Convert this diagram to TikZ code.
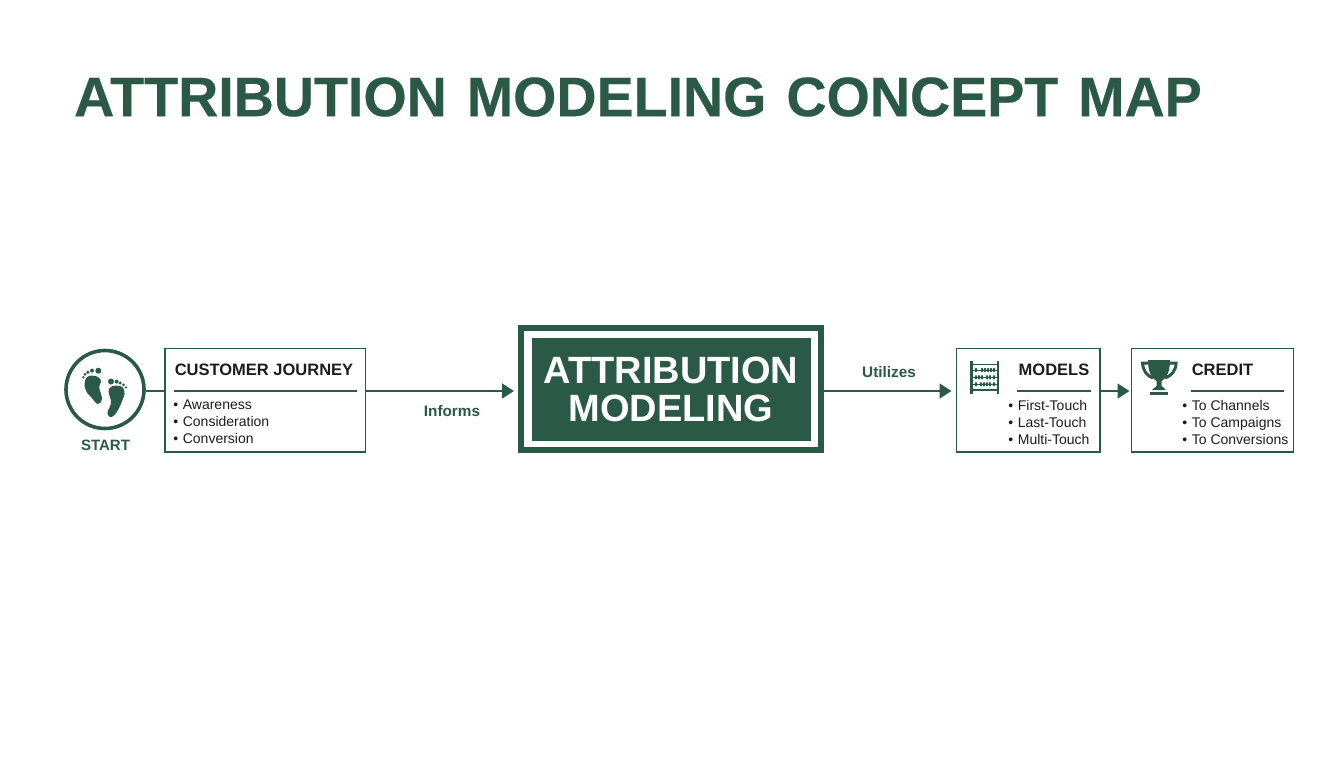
\documentclass[tikz,border=0pt]{standalone}
\usepackage{fontspec}
\setmainfont{Liberation Sans}
\newfontfamily\heavyfont[FakeBold=0.4]{Liberation Sans Bold}
\usetikzlibrary{arrows.meta,calc}
\definecolor{fgreen}{HTML}{2A5A45}
\definecolor{inkk}{HTML}{1C1C1C}
\newcommand{\fsz}[2]{\fontsize{\dimexpr#1pt*3/4\relax}{\dimexpr#2pt*3/4\relax}\selectfont}
\tikzset{
  cardbox/.style={draw=fgreen,line width=1.8pt*0.75,fill=white,inner sep=0pt,outer sep=0pt,anchor=north west},
  flow/.style={draw=fgreen,line width=2.6pt*0.75,-{Triangle[length=9pt,width=11pt]}},
  plainflow/.style={draw=fgreen,line width=2.6pt*0.75},
  rulehead/.style={draw=fgreen,line width=1.3pt*0.75},
  heading/.style={font=\bfseries\fsz{16.5}{20},text=inkk,inner sep=0pt},
  items/.style={font=\fsz{14}{17},text=inkk,inner sep=0pt,align=left,anchor=north west},
  linklabel/.style={font=\bfseries\fsz{15.3}{18},text=fgreen,inner sep=0pt},
}
\begin{document}
\begin{tikzpicture}[x=0.75pt,y=-0.75pt]
\useasboundingbox (0,0) rectangle (1344,768);
\fill[white] (0,0) rectangle (1344,768);
\coordinate (rail) at (0,391);

\node[inner sep=0pt,text=fgreen,font=\heavyfont\fsz{55.6}{60}] (title) at (638,97) {\spaceskip=15pt ATTRIBUTION MODELING CONCEPT MAP};

% start
\node[circle,draw=fgreen,line width=3.6pt*0.75,minimum size=78pt*0.75,inner sep=0pt] (start) at (105,389.5) {};
\node[inner sep=0pt,text=fgreen,font=\bfseries\fsz{15}{18}] (startlabel) at (105.5,445.5) {START};

% boxes
\node[cardbox,minimum width=200.5pt*0.75,minimum height=103.5pt*0.75] (journey) at (165,348.5) {};
\node[cardbox,minimum width=143.5pt*0.75,minimum height=103.5pt*0.75] (models) at (956.5,348.5) {};
\node[cardbox,minimum width=162pt*0.75,minimum height=103.5pt*0.75] (credit) at (1131.5,348.5) {};

% central
\node[draw=fgreen,line width=6pt*0.75,fill=white,minimum width=300pt*0.75,minimum height=122pt*0.75,inner sep=0pt] (main) at (671,389) {};
\node[fill=fgreen,minimum width=279pt*0.75,minimum height=103pt*0.75,inner sep=0pt,text=white,align=center,font=\bfseries\fsz{38}{38}] (maininner) at (671,389.5) {ATTRIBUTION\\MODELING};

% connectors
\draw[plainflow] (start.east |- rail) -- (journey.west |- rail);
\draw[flow,shorten >=4pt*0.75] (journey.east |- rail) -- (main.west |- rail);
\draw[flow,shorten >=5pt*0.75] (main.east |- rail) -- (models.west |- rail);
\draw[flow,shorten >=2pt*0.75] (models.east |- rail) -- (credit.west |- rail);
\node[linklabel] (informs) at (452,411) {Informs};
\node[linklabel] (utilizes) at (889,372) {Utilizes};

% journey content
\node[heading] (jhead) at (264,370) {CUSTOMER JOURNEY};
\draw[rulehead] (174,391) -- (357,391);
\node[items] (jitems) at (173,400) {•\hspace{3.5pt}Awareness\\•\hspace{3.5pt}Consideration\\•\hspace{3.5pt}Conversion};

% models content
\node[heading] (mhead) at (1054,370) {MODELS};
\draw[rulehead] (1017,391) -- (1091,391);
\node[items] (mitems) at (1008,400) {•\hspace{3.5pt}First-Touch\\•\hspace{3.5pt}Last-Touch\\•\hspace{3.5pt}Multi-Touch};

% credit content
\node[heading] (chead) at (1222.5,370) {CREDIT};
\draw[rulehead] (1191,391) -- (1284,391);
\node[items] (citems) at (1182,400) {•\hspace{3.5pt}To Channels\\•\hspace{3.5pt}To Campaigns\\•\hspace{3.5pt}To Conversions};

% footprints
\fill[fgreen] plot[smooth cycle,tension=0.8] coordinates {(85,380.5) (91.7,375.5) (100.5,379.5) (99.3,388) (102,398) (98,404) (91.5,397.5) (86,390.5)};
\foreach \x/\y/\r in {83.3/377.3/1.3,85/374.3/1.5,87.9/372.2/1.7,92/370.6/2,98.3/370.7/3}
  \fill[fgreen] (\x,\y) circle (\r);
\fill[fgreen] plot[smooth cycle,tension=0.8] coordinates {(109.3,388.3) (116.7,385.5) (124,389.5) (122.5,400) (114,415.5) (107.5,413.7) (111,403) (109.3,395)};
\foreach \x/\y/\r in {111/381.5/3,116.7/381.6/2,120.2/383/1.7,123.5/384.8/1.5,126/387.3/1.3}
  \fill[fgreen] (\x,\y) circle (\r);

% abacus
\fill[fgreen] (970,360.5) rectangle (972.5,393.5);
\fill[fgreen] (996.7,360.5) rectangle (999.2,393.5);
\fill[fgreen] (970,363.5) rectangle (999,365);
\fill[fgreen] (970,389) rectangle (999,390.5);
\foreach \yy in {370,377.3,384.3}{
  \draw[fgreen,line width=0.4pt] (972.5,\yy) -- (996.7,\yy);
}
\foreach \xx in {976,982,985,988,991,994} \fill[fgreen] (\xx,370) ellipse (1.3 and 2.2);
\foreach \xx in {976,979,982,987,990,994} \fill[fgreen] (\xx,377.3) ellipse (1.3 and 2.2);
\foreach \xx in {976,981,984,987,990,994} \fill[fgreen] (\xx,384.3) ellipse (1.3 and 2.2);

% trophy
\draw[fgreen,line width=3pt*0.75] (1149,363) -- (1142.5,363) .. controls (1143,371) and (1147,376) .. (1153,378);
\draw[fgreen,line width=3pt*0.75] (1169,363) -- (1176,363) .. controls (1176,371) and (1171,376) .. (1165,378);
\fill[fgreen] (1148,360) -- (1170,360) .. controls (1170,371) and (1167,378) .. (1161.7,381) -- (1161.7,386) -- (1166,390) -- (1152,390) -- (1156.5,386) -- (1156.5,381) .. controls (1151,378) and (1148,371) .. (1148,360) -- cycle;
\fill[fgreen] (1150,391.7) rectangle (1168,394.5);
\end{tikzpicture}
\end{document}
